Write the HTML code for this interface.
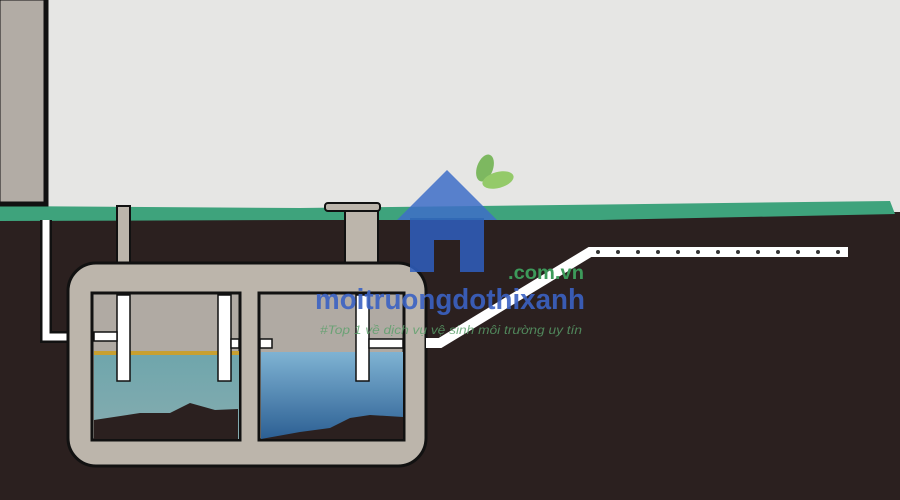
<!DOCTYPE html>
<html><head><meta charset="utf-8"><style>html,body{margin:0;padding:0;width:900px;height:500px;overflow:hidden}</style></head>
<body>
<svg width="900" height="500" viewBox="0 0 900 500" xmlns="http://www.w3.org/2000/svg">
<defs>
<linearGradient id="bw" x1="0" y1="0" x2="0" y2="1"><stop offset="0" stop-color="#7fb3d3"/><stop offset="1" stop-color="#2c5f93"/></linearGradient>
<linearGradient id="tw" x1="0" y1="0" x2="0" y2="1"><stop offset="0" stop-color="#6fa6ac"/><stop offset="1" stop-color="#86acb0"/></linearGradient>
</defs>
<rect width="900" height="500" fill="#e6e6e4"/>
<rect x="0" y="212" width="900" height="288" fill="#2b201f"/>
<path d="M0 206 L300 208 L560 205 L890 201 L895 214 L600 220 L300 220 L0 221 Z" fill="#3ea37c"/>
<rect x="-2" y="-2" width="48" height="206" fill="#b2aca5" stroke="#111" stroke-width="5"/>
<path d="M46 220 V337 H92" fill="none" stroke="#111" stroke-width="12"/>
<path d="M46 220 V337 H92" fill="none" stroke="#fff" stroke-width="7"/>
<rect x="117" y="206" width="13" height="60" fill="#bcb5ab" stroke="#111" stroke-width="2"/>
<rect x="345" y="210" width="33" height="56" fill="#bcb5ab" stroke="#111" stroke-width="2"/>
<rect x="325" y="203" width="55" height="8" rx="3" fill="#bcb5ab" stroke="#111" stroke-width="2"/>
<rect x="68" y="263" width="358" height="203" rx="28" fill="#bcb5ab" stroke="#111" stroke-width="3"/>
<rect x="92" y="293" width="148" height="147" fill="#b0aaa3" stroke="#111" stroke-width="3"/>
<rect x="259" y="293" width="145" height="147" fill="#b0aaa3" stroke="#111" stroke-width="3"/>
<rect x="94" y="351" width="145" height="4" fill="#c8a030"/>
<rect x="94" y="355" width="145" height="84" fill="url(#tw)"/>
<path d="M94 420 L140 413 L170 413 L190 403 L215 410 L238 409 L238 439 L94 439 Z" fill="#2b201f"/>
<rect x="261" y="352" width="142" height="87" fill="url(#bw)"/>
<path d="M261 439 L300 432 L330 428 L350 418 L370 415 L403 417 L403 439 Z" fill="#2b201f"/>
<g fill="#fff" stroke="#111" stroke-width="1.5">
<rect x="117" y="295" width="13" height="86"/>
<rect x="94" y="332" width="23" height="9"/>
<rect x="218" y="295" width="13" height="86"/>
<rect x="231" y="339" width="8" height="9"/>
<rect x="260" y="339" width="12" height="9"/>
<rect x="356" y="295" width="13" height="86"/>
<rect x="369" y="339" width="34" height="9"/>
</g>
<path d="M426 343 L440 343 L590 252 L848 252" fill="none" stroke="#fff" stroke-width="10"/>
<g fill="#333">
<circle cx="598" cy="252" r="2"/><circle cx="618" cy="252" r="2"/><circle cx="638" cy="252" r="2"/><circle cx="658" cy="252" r="2"/><circle cx="678" cy="252" r="2"/><circle cx="698" cy="252" r="2"/><circle cx="718" cy="252" r="2"/><circle cx="738" cy="252" r="2"/><circle cx="758" cy="252" r="2"/><circle cx="778" cy="252" r="2"/><circle cx="798" cy="252" r="2"/><circle cx="818" cy="252" r="2"/><circle cx="838" cy="252" r="2"/>
</g>
<g opacity="0.85">
<path d="M397 220 L447 170 L497 220 Z" fill="#3f6fc8"/>
<path d="M410 218 H484 V272 H460 V240 H434 V272 H410 Z" fill="#2f5fbf"/>
<ellipse cx="485" cy="168" rx="8" ry="14" transform="rotate(20 485 168)" fill="#6bb04a"/>
<ellipse cx="498" cy="180" rx="16" ry="8" transform="rotate(-15 498 180)" fill="#86c654"/>
</g>
<text x="508" y="279" textLength="76" lengthAdjust="spacingAndGlyphs" font-family="Liberation Sans, sans-serif" font-weight="bold" font-size="19" fill="#3d9a5a">.com.vn</text>
<text x="315" y="309" textLength="270" lengthAdjust="spacingAndGlyphs" font-family="Liberation Sans, sans-serif" font-weight="bold" font-size="29" fill="#3b62c4" opacity="0.9">moitruongdothixanh</text>
<text x="320" y="334" textLength="262" lengthAdjust="spacingAndGlyphs" font-family="Liberation Sans, 'Noto Sans CJK SC', sans-serif" font-style="italic" font-size="12" fill="#5aa06a" opacity="0.8">#Top 1 về dịch vụ vệ sinh môi trường uy tín</text>
</svg>
</body></html>
